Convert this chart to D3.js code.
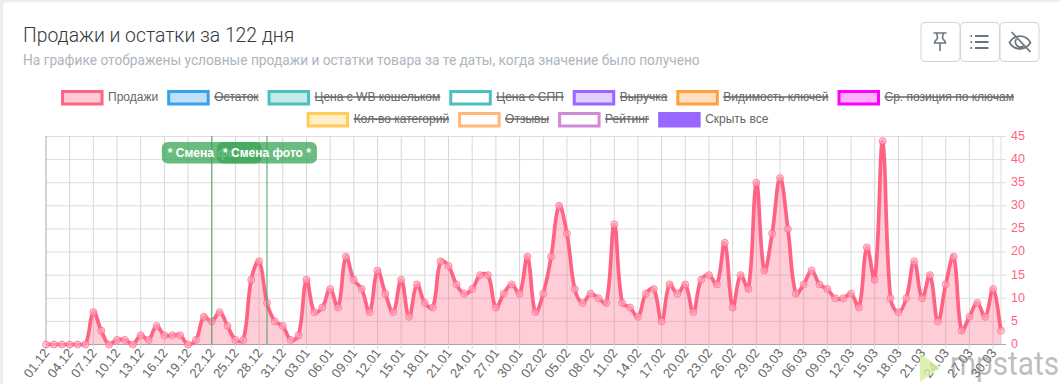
<!DOCTYPE html>
<html>
<head>
<meta charset="utf-8">
<script src="https://cdn.jsdelivr.net/npm/d3@7"></script>
<style>
  html, body { margin: 0; padding: 0; background: #eeeeee; overflow: hidden; }
  svg { display: block; font-family: "Liberation Sans", Arial, sans-serif; }
</style>
</head>
<body>
<svg id="chart" width="1060" height="384"></svg>
<script>
const title = "Продажи и остатки за 122 дня";
const subtitle = "На графике отображены условные продажи и остатки товара за те даты, когда значение было получено";

const dec = ["01.12","02.12","03.12","04.12","05.12","06.12","07.12","08.12","09.12","10.12","11.12","12.12","13.12","14.12","15.12","16.12","17.12","18.12","19.12","20.12","21.12","22.12","23.12","24.12","25.12","26.12","27.12","28.12","29.12","30.12","31.12"];
const jan = ["01.01","02.01","03.01","04.01","05.01","06.01","07.01","08.01","09.01","10.01","11.01","12.01","13.01","14.01","15.01","16.01","17.01","18.01","19.01","20.01","21.01","22.01","23.01","24.01","25.01","26.01","27.01","28.01","29.01","30.01","31.01"];
const feb = ["01.02","02.02","03.02","04.02","05.02","06.02","07.02","08.02","09.02","10.02","11.02","12.02","13.02","14.02","15.02","16.02","17.02","18.02","19.02","20.02","21.02","22.02","23.02","24.02","25.02","26.02","27.02","28.02","29.02"];
const mar = ["01.03","02.03","03.03","04.03","05.03","06.03","07.03","08.03","09.03","10.03","11.03","12.03","13.03","14.03","15.03","16.03","17.03","18.03","19.03","20.03","21.03","22.03","23.03","24.03","25.03","26.03","27.03","28.03","29.03","30.03","31.03"];
const dates = [...dec, ...jan, ...feb, ...mar];

const sales = [
  0,0,0,0,0,0,7,3,0,1,1,0,2,1,4,2,2,2,0,1,6,5,7,4,1,1,14,18,9,5,4,
  1,2,14,7,8,12,8,19,14,12,7,16,11,7,14,6,13,9,8,18,17,13,11,12,15,15,8,11,13,11,19,
  7,11,19,30,24,12,9,11,10,9,26,9,8,6,11,12,5,13,11,13,7,14,15,13,22,8,15,12,35,
  16,24,36,25,11,13,16,13,12,10,10,11,8,21,14,44,10,7,10,18,10,15,5,13,19,3,6,9,6,12,3
];

const yTicks = [0,5,10,15,20,25,30,35,40,45];
const xTickDates = dates.filter((d, i) => i % 3 === 0);

const annotationDates = ["22.12", "29.12"];
const annotationText = "* Смена фото *";

const legendRows = [
  ["Продажи","Остаток","Цена с WB кошельком","Цена с СПП","Выручка","Видимость ключей","Ср. позиция по ключам"],
  ["Кол-во категорий","Отзывы","Рейтинг","Скрыть все"]
];
const legendBorder = ["#ff6384","#36a2eb","#4bc0c0","#4bc0c0","#9966ff","#ff9f40","#ff00ff","#ffcd56","#ffb877","#d08ad8","#9966ff"];
const legendFill = ["#ffc9d5","#bfe0f8","#c5eaea","#ffffff","#dfd0ff","#ffdfc0","#ffb0ff","#ffeec8","#ffffff","#ffffff","#9966ff"];
const legendHidden = [false,true,true,true,true,true,true,true,true,true,false];

const PINK = "#ff6384";
const GREEN = "#3aa655";
const svg = d3.select("#chart");

// Same control points as a bezier line with tension .4, capped to the plot area
function tensionCurve(context) {
  let pts, line = NaN;
  const t = 0.4, top = 136.5, bottom = 344.5;
  const cap = v => Math.max(top, Math.min(bottom, v));
  return {
    areaStart() { line = 0; },
    areaEnd() { line = NaN; },
    lineStart() { pts = []; },
    point(px, py) { pts.push([+px, +py]); },
    lineEnd() {
      const ctrl = pts.map((p, i) => {
        const a = pts[Math.max(i - 1, 0)], b = pts[Math.min(i + 1, pts.length - 1)];
        const d01 = Math.hypot(p[0] - a[0], p[1] - a[1]), d12 = Math.hypot(b[0] - p[0], b[1] - p[1]);
        const sum = d01 + d12 || 1;
        const fa = t * d01 / sum, fb = t * d12 / sum;
        return {
          prev: [p[0] - fa * (b[0] - a[0]), cap(p[1] - fa * (b[1] - a[1]))],
          next: [p[0] + fb * (b[0] - a[0]), cap(p[1] + fb * (b[1] - a[1]))]
        };
      });
      pts.forEach((p, i) => {
        if (i === 0) {
          if (line === 1) context.lineTo(p[0], p[1]); else context.moveTo(p[0], p[1]);
        } else {
          context.bezierCurveTo(ctrl[i - 1].next[0], ctrl[i - 1].next[1], ctrl[i].prev[0], ctrl[i].prev[1], p[0], p[1]);
        }
      });
      if (line === 1) context.closePath();
      line = 1 - line;
    }
  };
}

// card
svg.append("rect").attr("x", 3).attr("y", 2).attr("width", 1060).attr("height", 390).attr("rx", 4).attr("fill", "#fff");

// header
svg.append("text").text(title).attr("x", 23).attr("y", 42)
  .attr("font-family", "Roboto").attr("font-size", 19.35).attr("font-weight", 300).attr("fill", "#343a40");
svg.append("text").text(subtitle).attr("x", 23).attr("y", 65)
  .attr("font-family", "Roboto").attr("font-size", 13.73).attr("fill", "#adb5bd");

// buttons
const buttons = svg.append("g").attr("transform", "translate(920.5,22)");
[0, 39.5, 79].forEach(x => {
  buttons.append("rect").attr("x", x + 0.5).attr("y", 0.5).attr("width", 39).attr("height", 39)
    .attr("rx", 4).attr("fill", "#fff").attr("stroke", "#ced4da");
});
const iconStroke = "#6c757d";
buttons.append("path")
  .attr("d", "M13 11h13M16 11c1 2 1 3 1 5c-1 2-3 3-3 5h11c0-2-2-3-3-5c0-2 0-3 1-5M19.500 21v8")
  .attr("fill", "none").attr("stroke", iconStroke).attr("stroke-width", 1.6);
buttons.append("path")
  .attr("d", "M54.500 14h13.500M54.500 20h13.500M54.500 26h13.500")
  .attr("fill", "none").attr("stroke", iconStroke).attr("stroke-width", 1.8);
buttons.append("path")
  .attr("d", "M50 14h2.500M50 20h2.500M50 26h2.500")
  .attr("fill", "none").attr("stroke", iconStroke).attr("stroke-width", 1.8).attr("stroke-dasharray", "1.5 1");
buttons.append("path")
  .attr("d", "M89 20.500c5-8.500 16-8.500 21 0c-5 8.500-16 8.500-21 0zM91 10l19 20M96 17a5 5 0 0 0 7 7")
  .attr("fill", "none").attr("stroke", iconStroke).attr("stroke-width", 1.7);

// legend
const legend = svg.append("g").attr("font-size", 12).attr("fill", "#666");
let legendIndex = 0;
legendRows.forEach((row, r) => {
  const rowG = legend.append("g");
  let x = 0;
  const y = 90 + r * 22;
  row.forEach(name => {
    const i = legendIndex++;
    rowG.append("rect").attr("x", x + 1.5).attr("y", y + 1.5).attr("width", 39.5).attr("height", 12.5)
      .attr("fill", legendFill[i]).attr("stroke", legendBorder[i]).attr("stroke-width", 3);
    const t = rowG.append("text").text(name).attr("x", x + 47).attr("y", y + 11);
    const w = t.node().getComputedTextLength();
    if (legendHidden[i]) {
      rowG.append("line").attr("x1", x + 47).attr("x2", x + 47 + w).attr("y1", y + 7).attr("y2", y + 7)
        .attr("stroke", "#666").attr("stroke-width", 1.5);
    }
    x += 47 + w + 9;
  });
  rowG.attr("transform", `translate(${537.5 - (x - 9) / 2},0)`);
});

// scales
const x = d3.scalePoint().domain(dates).range([46, 1001]);
const y = d3.scaleLinear().domain([0, 45]).range([344.5, 136.5]);

// grid
const grid = svg.append("g");
grid.selectAll("line.h").data(yTicks).enter().append("line").attr("class", "h")
  .attr("x1", 46).attr("x2", 1006).attr("y1", d => y(d)).attr("y2", d => y(d))
  .attr("stroke", d => d === 0 ? "#a8a8a8" : "#dddddd");
grid.selectAll("line.v").data(xTickDates).enter().append("line").attr("class", "v")
  .attr("x1", d => x(d)).attr("x2", d => x(d)).attr("y1", 136).attr("y2", 349)
  .attr("stroke", (d, i) => i === 0 ? "#a8a8a8" : "#d8d8d8");
grid.append("line").attr("x1", x("31.03")).attr("x2", x("31.03")).attr("y1", 136).attr("y2", 344.5)
  .attr("stroke", "#dddddd");

// area and line
const area = d3.area().x((d, i) => x(dates[i])).y0(y(0)).y1(d => y(d)).curve(tensionCurve);
const line = d3.line().x((d, i) => x(dates[i])).y(d => y(d)).curve(tensionCurve);
svg.append("path").datum(sales).attr("d", area).attr("fill", PINK).attr("fill-opacity", 0.32);
svg.append("path").datum(sales).attr("d", line).attr("fill", "none").attr("stroke", PINK).attr("stroke-width", 3.7);
svg.append("g").selectAll("circle").data(sales).enter().append("circle")
  .attr("cx", (d, i) => x(dates[i])).attr("cy", d => y(d)).attr("r", 3.5)
  .attr("fill", "#ffb1c1").attr("fill-opacity", 0.6).attr("stroke", PINK).attr("stroke-opacity", 0.7);

// axes text
svg.append("g").selectAll("text").data(yTicks).enter().append("text").text(d => d)
  .attr("x", 1011).attr("y", d => y(d) + 3.4).attr("font-size", 12.5).attr("fill", PINK);
svg.append("g").selectAll("text").data(xTickDates).enter().append("text").text(d => d)
  .attr("text-anchor", "end").attr("font-size", 13).attr("fill", "#666")
  .attr("transform", d => `translate(${x(d) + 4},${353}) rotate(-52)`);

// annotations
annotationDates.forEach((d, i) => {
  const g = svg.append("g");
  g.append("line").attr("x1", x(d)).attr("x2", x(d)).attr("y1", 136).attr("y2", 344.5)
    .attr("stroke", GREEN).attr("stroke-opacity", 0.75).attr("stroke-width", 1.3);
  const rect = g.append("rect").attr("y", 142).attr("height", 21.5).attr("rx", 6)
    .attr("fill", GREEN).attr("fill-opacity", 0.75);
  const t = g.append("text").text(annotationText).attr("x", x(d)).attr("y", 156.500).attr("text-anchor", "middle")
    .attr("font-size", 12).attr("font-weight", 700).attr("fill", "#fff");
  const w = t.node().getComputedTextLength() + 12;
  rect.attr("x", x(d) - w / 2).attr("width", w);
});

// watermark
svg.append("path").attr("d", "M920 353L940 368L920 382Z").attr("fill", "#d4eda0").attr("fill-opacity", 0.8);
svg.append("text").text("mpstats").attr("x", 950).attr("y", 375).attr("font-size", 33)
  .attr("font-family", "Roboto").attr("textLength", 109).attr("lengthAdjust", "spacingAndGlyphs")
  .attr("fill", "#888").attr("fill-opacity", 0.55);
</script>
</body>
</html>
